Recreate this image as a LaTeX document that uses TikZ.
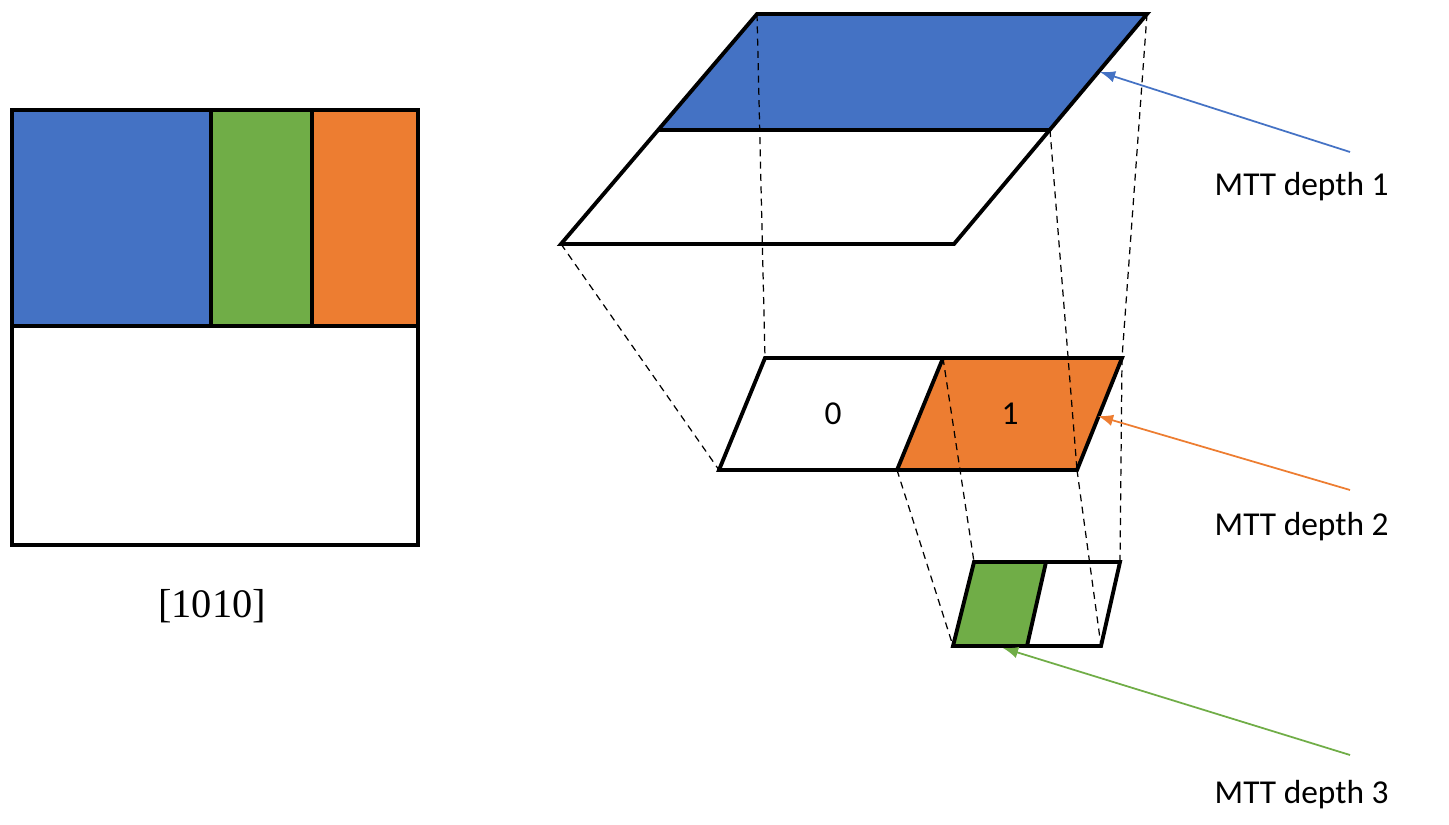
\documentclass[tikz,border=0pt]{standalone}
\usepackage{fontspec}
\newfontfamily\calfnt{Carlito}
\newfontfamily\tmsfnt{Liberation Serif}
\definecolor{cblue}{HTML}{4472C4}
\definecolor{cgreen}{HTML}{70AD47}
\definecolor{corange}{HTML}{ED7D31}
\begin{document}
\begin{tikzpicture}[x=0.01cm,y=-0.01cm,
  thk/.style={line width=1.1pt,line join=miter},
  dsh/.style={line width=0.35pt,dash pattern=on 2pt off 1.5pt},
  lbl/.style={font=\calfnt\fontsize{9.5}{11}\selectfont,anchor=west,inner sep=0},
  arr/.style={-latex,line width=0.5pt}]
\useasboundingbox (0,0) rectangle (1449,825);
% left block
\fill[cblue] (12,110) rectangle (211,326);
\fill[cgreen] (211,110) rectangle (312,326);
\fill[corange] (312,110) rectangle (418,326);
\draw[thk] (12,110) rectangle (418,545);
\draw[thk] (12,326) -- (418,326) (211,110) -- (211,326) (312,110) -- (312,326);
\node[font=\tmsfnt\fontsize{11.5}{13}\selectfont] (code) at (212,606) {[1010]};
% top parallelogram
\fill[cblue] (757,14) -- (1147,14) -- (1050,130) -- (659,130) -- cycle;
\draw[thk] (757,14) -- (1147,14) -- (954,244) -- (561,244) -- cycle;
\draw[thk] (659,130) -- (1050,130);
% middle
\fill[corange] (943,358) -- (1122,358) -- (1077,470) -- (897,470) -- cycle;
\draw[thk] (765,358) -- (1122,358) -- (1077,470) -- (719,470) -- cycle;
\draw[thk] (943,358) -- (897,470);
\node[font=\calfnt\fontsize{9.5}{11}\selectfont] (z) at (833,414) {0};
\node[font=\calfnt\fontsize{9.5}{11}\selectfont] (o) at (1010,414) {1};
% small
\fill[cgreen] (974,562) -- (1046,562) -- (1027,646) -- (953,646) -- cycle;
\draw[thk] (974,562) -- (1120,562) -- (1101,646) -- (953,646) -- cycle;
\draw[thk] (1046,562) -- (1027,646);
% dashed
\draw[dsh] (561,244) -- (719,470) (757,14) -- (765,358) (1050,130) -- (1077,470) (1147,14) -- (1122,358);
\draw[dsh] (897,470) -- (953,646) (943,358) -- (974,562) (1077,470) -- (1101,646) (1122,358) -- (1120,562);
% labels
\node[lbl] (l1) at (1214,187) {MTT depth 1};
\node[lbl] (l2) at (1214,527) {MTT depth 2};
\node[lbl] (l3) at (1214,795) {MTT depth 3};
\coordinate (a1) at (1350,152); \coordinate (b1) at (1100,72);
\coordinate (a2) at (1350,490); \coordinate (b2) at (1098,416);
\coordinate (a3) at (1350,755); \coordinate (b3) at (1003,648);
\draw[arr,cblue] (a1) -- (b1);
\draw[arr,corange] (a2) -- (b2);
\draw[arr,cgreen] (a3) -- (b3);
\end{tikzpicture}
\end{document}
